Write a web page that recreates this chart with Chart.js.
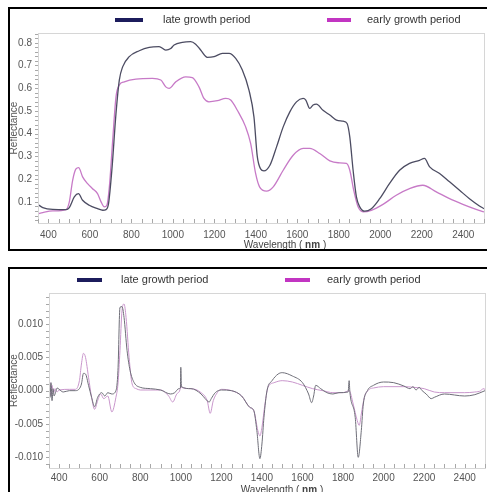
<!DOCTYPE html>
<html>
<head>
<meta charset="utf-8">
<script src="https://cdn.jsdelivr.net/npm/chart.js@4.4.1/dist/chart.umd.min.js"></script>
<style>
  body { margin: 0; background: #fff; width: 487px; height: 492px; overflow: hidden; position: relative; }
  canvas { position: absolute; left: 0; }
  .frame { position: absolute; border: 2px solid #000; pointer-events: none; }
</style>
</head>
<body>
<canvas id="topChart" width="487" height="252" style="top:0"></canvas>
<canvas id="bottomChart" width="487" height="240" style="top:252px"></canvas>
<div class="frame" style="left:8px;top:7px;width:500px;height:240px"></div>
<div class="frame" style="left:8px;top:267px;width:500px;height:240px"></div>
<script>
// reflectance spectra (top panel)
const lateTopWl = [350, 373, 421, 485, 501, 525, 545, 565, 597, 637, 662, 678, 690, 706, 726, 742, 758, 790, 838, 886, 934, 966, 990, 1006, 1046, 1086, 1110, 1134, 1166, 1199, 1239, 1271, 1303, 1335, 1367, 1391, 1407, 1423, 1439, 1468, 1500, 1532, 1564, 1596, 1628, 1641, 1660, 1676, 1692, 1724, 1757, 1789, 1821, 1840, 1853, 1869, 1885, 1901, 1925, 1957, 1997, 2045, 2093, 2141, 2189, 2213, 2238, 2286, 2334, 2382, 2430, 2478, 2500];
const lateTopVal = [0.088, 0.075, 0.067, 0.066, 0.075, 0.122, 0.136, 0.107, 0.085, 0.070, 0.063, 0.066, 0.092, 0.239, 0.489, 0.636, 0.694, 0.739, 0.765, 0.780, 0.783, 0.768, 0.775, 0.790, 0.802, 0.805, 0.794, 0.768, 0.736, 0.739, 0.753, 0.753, 0.731, 0.680, 0.592, 0.474, 0.300, 0.245, 0.236, 0.261, 0.342, 0.430, 0.496, 0.540, 0.555, 0.548, 0.511, 0.526, 0.530, 0.503, 0.482, 0.460, 0.455, 0.445, 0.386, 0.239, 0.122, 0.078, 0.059, 0.070, 0.114, 0.181, 0.239, 0.269, 0.283, 0.291, 0.254, 0.225, 0.188, 0.151, 0.114, 0.082, 0.070];
const earlyTopWl = [350, 373, 421, 485, 501, 517, 533, 546, 565, 589, 613, 637, 654, 670, 682, 694, 710, 726, 742, 766, 822, 902, 942, 966, 982, 1014, 1062, 1094, 1126, 1150, 1174, 1215, 1255, 1279, 1311, 1351, 1375, 1399, 1418, 1452, 1484, 1532, 1580, 1628, 1660, 1708, 1757, 1797, 1837, 1853, 1872, 1893, 1917, 1957, 2013, 2077, 2141, 2205, 2270, 2334, 2398, 2462, 2500];
const earlyTopVal = [0.048, 0.053, 0.060, 0.066, 0.100, 0.195, 0.245, 0.251, 0.210, 0.180, 0.158, 0.136, 0.100, 0.078, 0.085, 0.166, 0.371, 0.562, 0.614, 0.628, 0.640, 0.643, 0.636, 0.606, 0.599, 0.628, 0.650, 0.647, 0.606, 0.555, 0.540, 0.545, 0.555, 0.548, 0.503, 0.430, 0.357, 0.225, 0.166, 0.147, 0.166, 0.239, 0.305, 0.335, 0.335, 0.313, 0.280, 0.272, 0.269, 0.239, 0.151, 0.078, 0.056, 0.063, 0.089, 0.129, 0.158, 0.173, 0.144, 0.114, 0.089, 0.067, 0.056];

// first derivative spectra (bottom panel)
const lateBotWl = [350, 355, 360, 365, 370, 375, 380, 390, 400, 420, 450, 480, 500, 510, 520, 530, 545, 560, 575, 590, 610, 625, 640, 660, 680, 690, 700, 710, 720, 735, 750, 770, 800, 850, 900, 950, 970, 990, 998, 1000, 1003, 1050, 1100, 1120, 1140, 1150, 1170, 1200, 1250, 1300, 1340, 1360, 1375, 1390, 1400, 1410, 1425, 1450, 1480, 1500, 1550, 1600, 1630, 1645, 1655, 1665, 1690, 1720, 1750, 1780, 1825, 1830, 1834, 1860, 1875, 1890, 1900, 1920, 1950, 2000, 2050, 2100, 2130, 2145, 2160, 2175, 2190, 2210, 2235, 2250, 2300, 2400, 2450, 2500];
const lateBotVal = [0.0005, -0.001, 0.0012, -0.0015, 0.0003, -0.0008, -0.0005, 0.0004, 0.0002, -0.0002, 0.0, 0.0, 0.0003, 0.001, 0.0026, 0.0025, 0.0008, -0.001, -0.0024, -0.001, -0.0003, -0.0008, -0.0003, -0.0005, 0.0, 0.003, 0.0125, 0.0126, 0.011, 0.006, 0.003, 0.0012, 0.0005, 0.0003, 0.0001, -0.0005, -0.0003, 0.0003, 0.0004, 0.0035, 0.0006, 0.0003, -0.0005, -0.0012, -0.0017, -0.0012, -0.0003, 0.0001, 0.0, -0.0008, -0.0025, -0.003, -0.006, -0.0102, -0.008, -0.004, 0.0, 0.0015, 0.0025, 0.0027, 0.0022, 0.0012, -0.0005, -0.0018, -0.0008, 0.0008, 0.0003, -0.0003, -0.0005, -0.0003, -0.0002, 0.0015, -0.0003, -0.004, -0.010, -0.006, -0.002, 0.0, 0.0008, 0.0013, 0.0012, 0.0007, 0.0003, 0.0006, 0.0001, 0.0005, 0.0, -0.0005, -0.0012, -0.001, -0.0005, -0.0008, -0.0006, 0.0];
const earlyBotWl = [350, 355, 360, 365, 372, 380, 390, 400, 450, 480, 500, 510, 520, 530, 545, 560, 575, 590, 605, 620, 640, 660, 680, 690, 700, 710, 720, 730, 745, 760, 780, 800, 900, 940, 960, 980, 998, 1000, 1003, 1050, 1100, 1130, 1145, 1160, 1180, 1200, 1250, 1300, 1340, 1360, 1380, 1390, 1400, 1415, 1430, 1460, 1500, 1550, 1600, 1650, 1700, 1750, 1800, 1830, 1850, 1870, 1880, 1890, 1905, 1930, 1950, 2000, 2100, 2150, 2200, 2250, 2300, 2400, 2450, 2480, 2490, 2500];
const earlyBotVal = [-0.0003, 0.0012, -0.0008, 0.0008, -0.0004, 0.0003, -0.0002, 0.0001, 0.0002, 0.0002, 0.0015, 0.004, 0.0056, 0.005, 0.002, -0.001, -0.0028, -0.0015, -0.0005, -0.0012, -0.0008, -0.0032, -0.001, 0.001, 0.006, 0.012, 0.013, 0.011, 0.005, 0.001, 0.0003, 0.0001, 0.0001, -0.0008, -0.0017, -0.0005, 0.0004, 0.001, 0.0005, 0.0003, -0.0003, -0.0015, -0.0034, -0.0015, -0.0003, 0.0002, 0.0, -0.0008, -0.0025, -0.003, -0.006, -0.0068, -0.0055, -0.002, 0.0005, 0.0012, 0.0015, 0.0013, 0.0008, 0.0003, 0.0, -0.0003, -0.0003, 0.0, -0.002, -0.0045, -0.0052, -0.0035, -0.001, 0.0002, 0.0004, 0.0006, 0.0006, 0.0005, 0.0003, -0.0002, -0.0003, -0.0003, -0.0002, 0.0, 0.0003, 0.0002];

const xTicks = [400, 600, 800, 1000, 1200, 1400, 1600, 1800, 2000, 2200, 2400];
const yTicksTop = [0.1, 0.2, 0.3, 0.4, 0.5, 0.6, 0.7, 0.8];
const yTicksBottom = [-0.010, -0.005, 0.000, 0.005, 0.010];
const seriesNames = ['late growth period', 'early growth period'];

const FONT = '"Liberation Sans", Arial, sans-serif';

function pairs(xs, ys) {
  return xs.map((x, i) => ({ x, y: ys[i] }));
}

// plot frame, minor ticks, legend and x title
const decorPlugin = {
  id: 'decor',
  afterDraw(chart, args, o) {
    const { ctx, chartArea: a, scales: { x, y } } = chart;
    ctx.save();
    ctx.strokeStyle = '#d6d6d6';
    ctx.lineWidth = 1;
    ctx.strokeRect(Math.round(a.left) + 0.5, Math.round(a.top) + 0.5, Math.round(a.right - a.left), Math.round(a.bottom - a.top));

    ctx.strokeStyle = '#a8a8a8';
    ctx.beginPath();
    for (let v = 350; v <= 2500; v += 50) {
      const px = Math.round(x.getPixelForValue(v)) + 0.5;
      ctx.moveTo(px, a.bottom);
      ctx.lineTo(px, a.bottom - 4);
    }
    for (let k = Math.ceil(y.min / o.yStep); k * o.yStep <= y.max; k++) {
      const py = Math.round(y.getPixelForValue(k * o.yStep)) + 0.5;
      ctx.moveTo(a.left, py);
      ctx.lineTo(a.left - 3, py);
    }
    ctx.stroke();

    // legend
    ctx.font = '11px ' + FONT;
    ctx.textBaseline = 'middle';
    ctx.textAlign = 'left';
    o.legend.forEach((it, i) => {
      ctx.strokeStyle = it.color;
      ctx.lineWidth = 4;
      ctx.beginPath();
      ctx.moveTo(it.x, o.legendY);
      ctx.lineTo(it.x + it.w, o.legendY);
      ctx.stroke();
      ctx.fillStyle = '#333';
      ctx.fillText(seriesNames[i], it.tx, o.legendY);
    });

    // x title "Wavelength ( nm )" with bold unit
    const parts = [['Wavelength ( ', 'normal'], ['nm', 'bold'], [' )', 'normal']];
    let total = 0;
    parts.forEach(p => { ctx.font = p[1] + ' 10px ' + FONT; total += ctx.measureText(p[0]).width; });
    let tx = o.titleX - total / 2;
    ctx.fillStyle = '#444';
    parts.forEach(p => {
      ctx.font = p[1] + ' 10px ' + FONT;
      ctx.fillText(p[0], tx, o.titleY);
      tx += ctx.measureText(p[0]).width;
    });
    ctx.restore();
  }
};

function makeChart(id, cfg) {
  return new Chart(document.getElementById(id), {
    type: 'line',
    data: {
      datasets: [
        { label: seriesNames[0], data: pairs(cfg.lateWl, cfg.lateVal), borderColor: cfg.lateColor, borderWidth: cfg.lw },
        { label: seriesNames[1], data: pairs(cfg.earlyWl, cfg.earlyVal), borderColor: cfg.earlyColor, borderWidth: cfg.lw }
      ]
    },
    options: {
      responsive: false,
      animation: false,
      devicePixelRatio: 1,
      layout: { padding: { left: 0, top: cfg.padTop, right: cfg.padRight, bottom: 0 } },
      elements: {
        point: { radius: 0 },
        line: { cubicInterpolationMode: 'monotone', fill: false }
      },
      plugins: {
        legend: { display: false },
        tooltip: { enabled: false },
        decor: cfg.decor
      },
      scales: {
        x: {
          type: 'linear',
          min: 350,
          max: 2500,
          grid: { display: false, drawTicks: false },
          border: { display: true, color: '#c4c4c4' },
          afterBuildTicks: s => { s.ticks = xTicks.map(v => ({ value: v })); },
          afterFit: s => { s.height = cfg.xHeight; },
          ticks: { color: '#555', padding: cfg.xPad, font: { family: FONT, size: 10 }, maxRotation: 0, autoSkip: false, callback: v => String(v) }
        },
        y: {
          min: cfg.yMin,
          max: cfg.yMax,
          grid: { display: false, drawTicks: false },
          border: { display: true, color: '#c4c4c4' },
          afterBuildTicks: s => { s.ticks = cfg.yTicks.map(v => ({ value: v })); },
          afterFit: s => { s.width = cfg.yWidth; },
          ticks: { color: '#555', padding: 6, font: { family: FONT, size: 10 }, callback: v => v.toFixed(cfg.yDigits) },
          title: { display: true, text: 'Reflectance', color: '#555', font: { family: FONT, size: 10 }, padding: { top: 8, bottom: 0 } }
        }
      }
    },
    plugins: [decorPlugin]
  });
}

makeChart('topChart', {
  lateWl: lateTopWl, lateVal: lateTopVal, earlyWl: earlyTopWl, earlyVal: earlyTopVal,
  lateColor: '#4c4c62', earlyColor: '#c77ac7', lw: 1.3,
  padTop: 33, padRight: 3, xHeight: 29, yWidth: 38, xPad: 6,
  yMin: 0.007, yMax: 0.843, yTicks: yTicksTop, yDigits: 1,
  decor: {
    yStep: 0.02, legendY: 20, titleX: 285, titleY: 245,
    legend: [{ x: 115, w: 28, tx: 163, color: '#1c1c5c' }, { x: 327, w: 24, tx: 367, color: '#c235c2' }]
  }
});

makeChart('bottomChart', {
  lateWl: lateBotWl, lateVal: lateBotVal, earlyWl: earlyBotWl, earlyVal: earlyBotVal,
  lateColor: '#6e6e78', earlyColor: '#c996cc', lw: 1,
  padTop: 41, padRight: 2, xHeight: 24, yWidth: 49, xPad: 4,
  yMin: -0.0116, yMax: 0.01465, yTicks: yTicksBottom, yDigits: 3,
  decor: {
    yStep: 0.001, legendY: 28, titleX: 282, titleY: 238,
    legend: [{ x: 77, w: 25, tx: 121, color: '#1c1c5c' }, { x: 285, w: 25, tx: 327, color: '#c235c2' }]
  }
});
</script>
</body>
</html>
